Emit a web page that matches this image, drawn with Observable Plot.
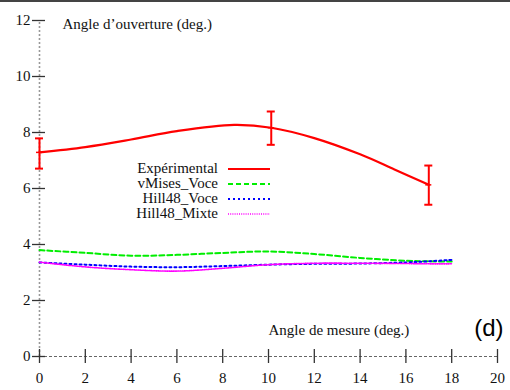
<!DOCTYPE html>
<html>
<head>
<meta charset="utf-8">
<script src="https://cdn.jsdelivr.net/npm/d3@7"></script>
<script src="https://cdn.jsdelivr.net/npm/@observablehq/plot@0.6"></script>
<style>
  html, body { margin: 0; padding: 0; background: #fff; }
  #wrap { position: relative; width: 510px; height: 390px; }
  #wrap::before { content: ""; position: absolute; left: 0; top: 0; width: 510px; height: 2px; background: #444; z-index: 2; }
  #legend { position: absolute; left: 100px; top: 161px; font-family: "Liberation Serif", serif; font-size: 15px; color: #111; }
  #legend .row { display: flex; align-items: center; height: 15px; }
  #legend .lab { width: 118px; text-align: right; padding-right: 10px; line-height: 15px; }
  #legend svg { display: block; }
</style>
</head>
<body>
<div id="wrap"></div>
<script>
// ---- data ----
const xTicks = [0, 2, 4, 6, 8, 10, 12, 14, 16, 18, 20];
const yTicks = [0, 2, 4, 6, 8, 10, 12];

const expPtsX = [0, 10.12, 17.0];
const expPtsY = [7.29, 8.17, 6.13];
const expLo = [6.71, 7.56, 5.42];
const expHi = [7.79, 8.75, 6.82];

const expCurveX = [0, 2, 4, 6, 8.5, 10.12, 12, 14, 15.5, 17];
const expCurveY = [7.29, 7.48, 7.75, 8.05, 8.27, 8.17, 7.8, 7.22, 6.68, 6.13];

const simX = [0, 2, 4, 6, 8, 10, 12, 14, 16, 17, 18];
const vMisesVoce = [3.8, 3.7, 3.6, 3.63, 3.7, 3.75, 3.66, 3.52, 3.42, 3.4, 3.39];
const hill48Voce = [3.36, 3.28, 3.21, 3.19, 3.23, 3.28, 3.31, 3.32, 3.36, 3.4, 3.45];
const hill48Mixte = [3.37, 3.2, 3.1, 3.05, 3.15, 3.28, 3.33, 3.33, 3.32, 3.31, 3.31];

const seriesNames = ["Expérimental", "vMises_Voce", "Hill48_Voce", "Hill48_Mixte"];
const seriesColors = ["#ff0000", "#00ee00", "#0000ff", "#ff00ff"];
const seriesDash = [null, "5,3", "2,3", "1,1.2"];
const seriesWidth = [2.2, 2, 2, 1.6];

const xTitle = "Angle de mesure (deg.)";
const yTitle = "Angle d’ouverture (deg.)";
const panelLabel = "(d)";

// ---- tables ----
const expCurve = expCurveX.map((x, i) => ({x, y: expCurveY[i]}));
const expPts = expPtsX.map((x, i) => ({x, y: expPtsY[i], lo: expLo[i], hi: expHi[i]}));
const sims = [vMisesVoce, hill48Voce, hill48Mixte].map(vals => simX.map((x, i) => ({x, y: vals[i]})));

const serif = "Liberation Serif, Times New Roman, serif";

const chart = Plot.plot({
  width: 510,
  height: 390,
  marginLeft: 39,
  marginRight: 13,
  marginTop: 20,
  marginBottom: 34,
  style: {fontFamily: serif, fontSize: "15px", color: "#111", background: "transparent", overflow: "visible"},
  x: {domain: [0, 20], axis: null},
  y: {domain: [0, 12], axis: null},
  marks: [
    // axis lines
    Plot.ruleX([0], {y1: 0, y2: 12, stroke: "#999", strokeWidth: 1.6, strokeDasharray: "2,2"}),
    Plot.ruleY([0], {x1: 0, x2: 20, stroke: "#666", strokeWidth: 1, strokeDasharray: "3,2"}),
    // ticks crossing the axes
    Plot.ruleY(yTicks, {y: d => d, x1: 0, x2: 0, insetLeft: -7, insetRight: -6, stroke: "#333", strokeWidth: 1.3}),
    Plot.ruleX(xTicks, {x: d => d, y1: 0, y2: 0, insetTop: -7, insetBottom: -7, stroke: "#333", strokeWidth: 1.3}),
    // tick labels
    Plot.text(yTicks, {x: 0, y: d => d, text: d => String(d), textAnchor: "end", dx: -9, fill: "#111"}),
    Plot.text(xTicks, {x: d => d, y: 0, text: d => String(d), dy: 22, fill: "#111"}),
    // axis titles
    Plot.text([yTitle], {frameAnchor: "top-left", text: d => d, dx: 23, dy: -2, textAnchor: "start", fill: "#111"}),
    Plot.text([xTitle], {frameAnchor: "bottom-left", text: d => d, dx: 229, dy: -22, textAnchor: "start", fill: "#111"}),
    Plot.text([panelLabel], {frameAnchor: "bottom-right", text: d => d, dx: 6, dy: -21, textAnchor: "end", fontFamily: "Liberation Sans, Arial, sans-serif", fontSize: 24, fill: "#000"}),
    // simulations
    ...sims.map((s, k) => Plot.line(s, {x: "x", y: "y", curve: "catmull-rom", stroke: seriesColors[k + 1], strokeWidth: seriesWidth[k + 1], strokeDasharray: seriesDash[k + 1]})),
    // experimental
    Plot.line(expCurve, {x: "x", y: "y", curve: "catmull-rom", stroke: seriesColors[0], strokeWidth: seriesWidth[0]}),
    Plot.ruleX(expPts, {x: "x", y1: "lo", y2: "hi", stroke: seriesColors[0], strokeWidth: 2}),
    Plot.ruleY(expPts, {y: "hi", x1: "x", x2: "x", insetLeft: -4, insetRight: -4, stroke: seriesColors[0], strokeWidth: 2}),
    Plot.ruleY(expPts, {y: "lo", x1: "x", x2: "x", insetLeft: -4, insetRight: -4, stroke: seriesColors[0], strokeWidth: 2}),
    Plot.ruleY(expPts, {y: "y", x1: "x", x2: "x", insetLeft: -3, insetRight: -3, stroke: seriesColors[0], strokeWidth: 1.5})
  ]
});

const wrap = document.getElementById("wrap");
wrap.appendChild(chart);

// legend (inside plot area, top-middle)
const legend = document.createElement("div");
legend.id = "legend";
seriesNames.forEach((name, i) => {
  const row = document.createElement("div");
  row.className = "row";
  const lab = document.createElement("div");
  lab.className = "lab";
  lab.textContent = name;
  row.appendChild(lab);
  const svg = d3.create("svg").attr("width", 44).attr("height", 15);
  svg.append("line").attr("x1", 0).attr("x2", 42).attr("y1", 8).attr("y2", 8)
    .attr("stroke", seriesColors[i]).attr("stroke-width", seriesWidth[i])
    .attr("stroke-dasharray", seriesDash[i]);
  row.appendChild(svg.node());
  legend.appendChild(row);
});
wrap.appendChild(legend);
</script>
</body>
</html>
